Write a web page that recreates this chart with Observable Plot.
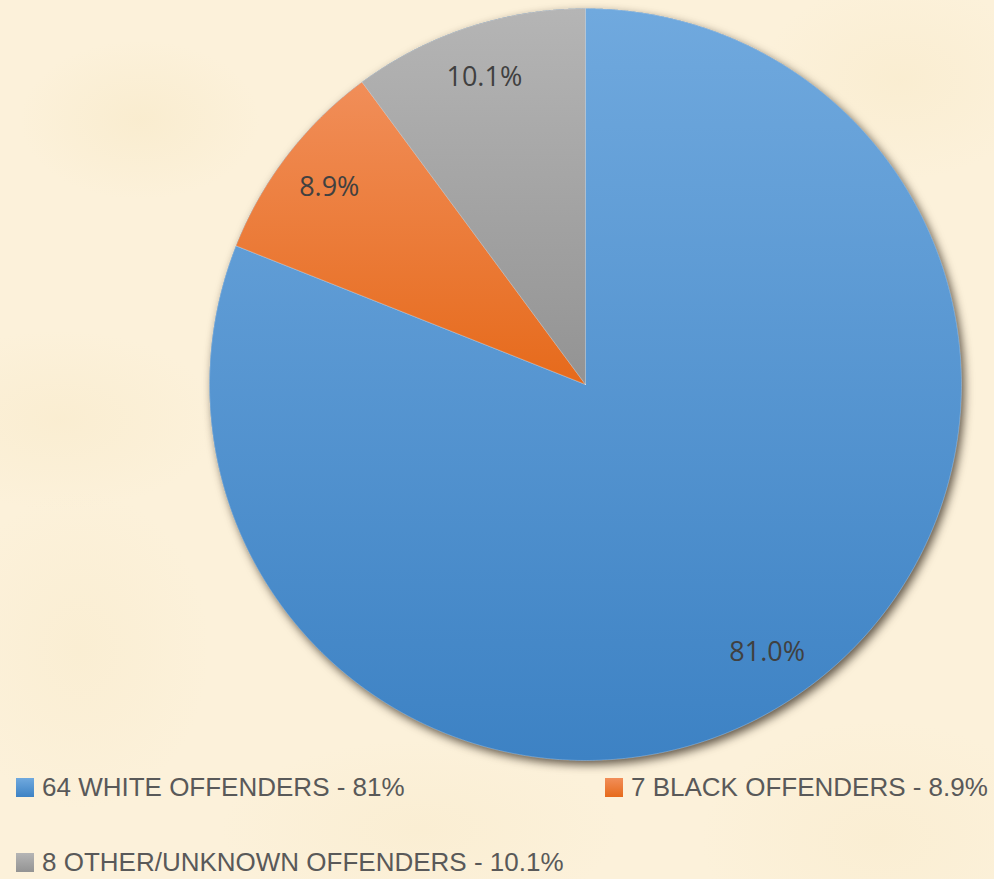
<!DOCTYPE html>
<html>
<head>
<meta charset="utf-8">
<script src="https://cdn.jsdelivr.net/npm/d3@7"></script>
<script src="https://cdn.jsdelivr.net/npm/@observablehq/plot@0.6"></script>
<style>
  html, body { margin: 0; padding: 0; }
  body {
    width: 994px; height: 879px; overflow: hidden;
    background-color: #fcf1da;
    background-image:
      radial-gradient(ellipse 120px 80px at 140px 120px, rgba(240,220,170,0.22), transparent),
      radial-gradient(ellipse 160px 90px at 60px 420px, rgba(240,220,170,0.18), transparent),
      radial-gradient(ellipse 140px 100px at 900px 80px, rgba(240,220,170,0.18), transparent),
      radial-gradient(ellipse 200px 90px at 420px 830px, rgba(240,220,170,0.15), transparent),
      radial-gradient(ellipse 180px 120px at 880px 840px, rgba(240,220,170,0.15), transparent),
      radial-gradient(ellipse 130px 160px at 80px 650px, rgba(240,220,170,0.15), transparent);
  }
  #wrap { position: relative; width: 994px; height: 879px; }
  #chart svg { display: block; background: transparent; overflow: visible; }
  .leg {
    position: absolute; height: 40px; display: flex; align-items: center;
    font-family: "Liberation Sans", sans-serif;
    font-size: 26px; color: #595959; white-space: nowrap;
  }
  .leg .sw { width: 18px; height: 19px; margin-right: 8px; }
</style>
</head>
<body>
<div id="wrap">
  <div id="chart"></div>
</div>
<script>
// ---- data ----
const names = ["White", "Black", "Other/Unknown"];
const counts = [64, 7, 8];
const pctLabels = ["81.0%", "8.9%", "10.1%"];
const legendLabels = [
  "64 WHITE OFFENDERS - 81%",
  "7 BLACK OFFENDERS - 8.9%",
  "8 OTHER/UNKNOWN OFFENDERS - 10.1%"
];
const gradTop = ["#70a9de", "#f18e59", "#b5b5b5"];
const gradBottom = ["#3d82c4", "#e66a1b", "#939393"];
const shadowFill = "#3a6f9f";

// ---- slice geometry from the values ----
const total = d3.sum(counts);
let acc = 0;
const slices = counts.map((v, i) => {
  const a0 = acc / total * 2 * Math.PI;
  acc += v;
  const a1 = acc / total * 2 * Math.PI;
  return { name: names[i], value: v, a0, a1, i };
});
function slicePoints(s) {
  const pts = [{ x: 0, y: 0 }];
  const n = Math.max(8, Math.ceil((s.a1 - s.a0) / 0.004));
  for (let k = 0; k <= n; k++) {
    const a = s.a0 + (s.a1 - s.a0) * k / n;
    pts.push({ x: Math.sin(a), y: Math.cos(a) });
  }
  pts.push({ x: 0, y: 0 });
  return pts;
}
const disc = slicePoints({ a0: 0, a1: 2 * Math.PI });
const labelR = 0.86;
const labels = slices.map((s, i) => {
  const m = (s.a0 + s.a1) / 2;
  return { x: labelR * Math.sin(m), y: labelR * Math.cos(m), text: pctLabels[i] };
});

const plot = Plot.plot({
  width: 994,
  height: 770,
  marginLeft: 209,
  marginRight: 33,
  marginTop: 8,
  marginBottom: 10,
  x: { domain: [-1, 1], axis: null },
  y: { domain: [-1, 1], axis: null },
  style: { background: "transparent", overflow: "visible" },
  marks: [
    Plot.line(disc, { x: "x", y: "y", fill: shadowFill, stroke: "none", curve: "linear" }),
    ...slices.map((s, i) =>
      Plot.line(slicePoints(s), {
        x: "x", y: "y", curve: "linear",
        fill: `url(#grad${i})`,
        stroke: "rgba(255,255,255,0.35)", strokeWidth: 0.8
      })
    ),
    Plot.text(labels, {
      x: "x", y: "y", text: "text",
      fontSize: 27, fill: "#404040",
      fontFamily: "'Open Sans', sans-serif"
    })
  ]
});

const svg = d3.select(plot);
const defs = svg.insert("defs", ":first-child");
slices.forEach((s, i) => {
  const g = defs.append("linearGradient")
    .attr("id", `grad${i}`)
    .attr("x1", 0).attr("y1", 0).attr("x2", 0).attr("y2", 1);
  g.append("stop").attr("offset", "0%").attr("stop-color", gradTop[i]);
  g.append("stop").attr("offset", "100%").attr("stop-color", gradBottom[i]);
});
// find the element(s) painted with the shadow colour and give them a drop shadow
const shadowEls = Array.from(plot.querySelectorAll("g, path")).filter(el => {
  const fill = (el.getAttribute("fill") || "").toLowerCase();
  return fill === shadowFill;
});
const target = shadowEls.length ? shadowEls[0] : plot.querySelector("path");
target.style.filter = "drop-shadow(3px 4px 5px rgba(30,20,10,0.7))";

document.getElementById("chart").appendChild(plot);

// ---- legend below the SVG ----
const legendPos = [
  { left: 16, top: 767 },
  { left: 605, top: 767 },
  { left: 16, top: 842 }
];
const wrap = d3.select("#wrap");
legendLabels.forEach((t, i) => {
  const item = wrap.append("div").attr("class", "leg")
    .style("left", legendPos[i].left + "px")
    .style("top", legendPos[i].top + "px");
  item.append("div").attr("class", "sw")
    .style("background", `linear-gradient(${gradTop[i]}, ${gradBottom[i]})`);
  item.append("span").text(t);
});
</script>
</body>
</html>
